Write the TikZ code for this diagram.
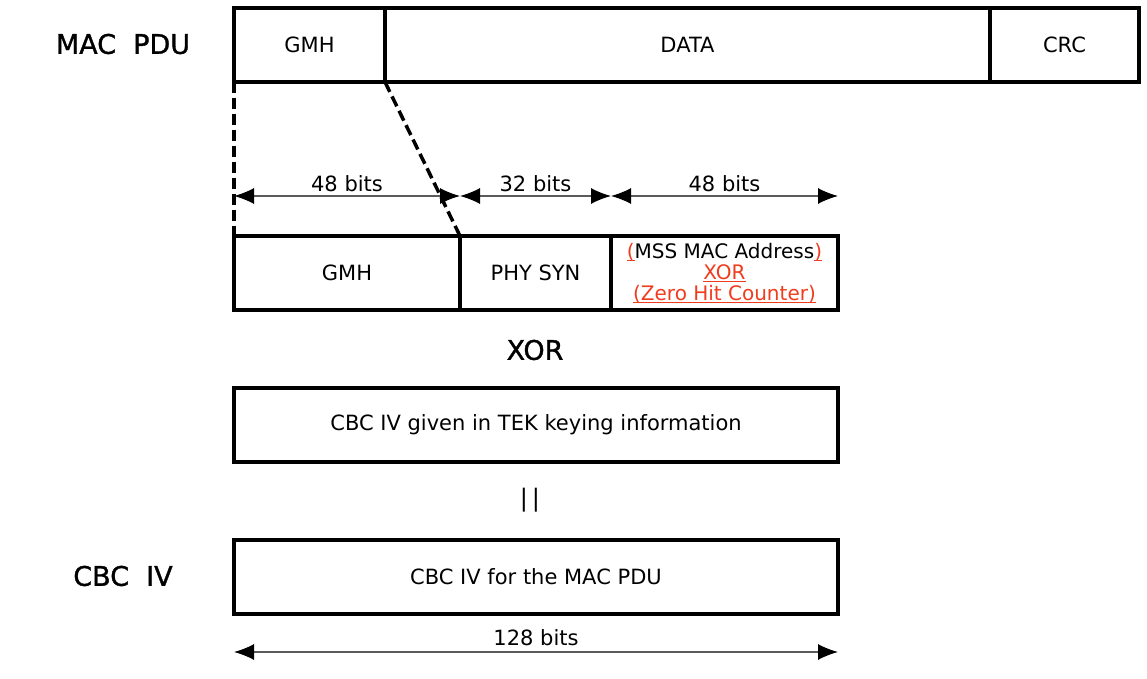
\documentclass[tikz,border=0pt]{standalone}
\usepackage{fontspec}
\setmainfont{DejaVu Sans}
\newfontfamily\heavyfont[FakeBold=1.2]{DejaVu Sans}
\usetikzlibrary{arrows.meta}
\definecolor{edit}{RGB}{240,60,30}
\definecolor{dimgray}{RGB}{90,90,90}
% underlined edit mark
\newcommand{\edul}[1]{\setbox0\hbox{#1}\rlap{\raisebox{-3pt}{\rule{\wd0}{1pt}}}\box0}

\begin{document}
\begin{tikzpicture}[%
    x=1pt, y=-1pt,              % work in pixels of the page, y going down
    >={Latex[length=20pt,width=16pt,color=black]}, % filled dimension tips
    ]
% -------------------------------------------------
% Field boxes, labels and dimension lines
\tikzset{
  field/.style={draw, line width=3.5pt, anchor=north west, inner sep=0pt, outer sep=0pt,
                minimum height=74pt, align=center, font=\fontsize{21}{21}\selectfont},
  rowlabel/.style={font=\heavyfont\fontsize{27}{27}\selectfont},
  gap/.style={draw, line width=3.5pt, dash pattern=on 11pt off 5pt},
  dim/.style={<->, draw=dimgray, line width=1.3pt},
  bits/.style={font=\fontsize{21}{21}\selectfont, inner sep=0pt}
}
\useasboundingbox (0,0) rectangle (1147,679);
% -------------------------------------------------
% MAC PDU on top
\node [rowlabel] (maclabel) at (123,44) {MAC\ \ PDU};
\node [field, minimum width=151pt] (gmh) at (234,8) {GMH};
\node [field, minimum width=605pt] (data) at (385,8) {DATA};
\node [field, minimum width=149pt] (crc) at (990,8) {CRC};

% the header taken apart
\node [field, minimum width=226pt] (gmhb) at (234,236) {GMH};
\node [field, minimum width=151pt] (phy) at (460,236) {PHY SYN};
\node [field, minimum width=227pt, font=\fontsize{20}{21}\selectfont] (addr) at (611,236)
  {{\color{edit}\edul{(}}MSS MAC Address{\color{edit}\edul{)}}\\
   {\color{edit}\edul{XOR}}\\
   {\color{edit}\edul{(Zero Hit Counter)}}};

\draw[gap] (gmh.south west) -- (gmhb.north west);
\draw[gap] (gmh.south east) -- (gmhb.north east);

% bit widths above the header
\coordinate (d0) at ([yshift=40pt]gmhb.north west);
\coordinate (d1) at ([yshift=40pt]gmhb.north east);
\coordinate (d2) at ([yshift=40pt]phy.north east);
\coordinate (d3) at ([yshift=40pt]addr.north east);
\draw[dim] (d0) -- node[bits, above=4pt] {48 bits} (d1);
\draw[dim] (d1) -- node[bits, above=4pt] {32 bits} (d2);
\draw[dim] (d2) -- node[bits, above=4pt] {48 bits} (d3);

% -------------------------------------------------
\node [rowlabel] (xor) at (535,350) {XOR};
\node [field, minimum width=604pt] (given) at (234,388) {CBC IV given in TEK keying information};
\node [font=\fontsize{24}{24}\selectfont] (concat) at (530,500) {|\,|};

% the resulting IV
\node [rowlabel] (cbclabel) at (123,576) {CBC\ \ IV};
\node [field, minimum width=604pt] (cbciv) at (234,540) {CBC IV for the MAC PDU};
\coordinate (e0) at ([yshift=-38pt]cbciv.south west);
\coordinate (e1) at ([yshift=-38pt]cbciv.south east);
\draw[dim] (e0) -- node[bits, above=6pt] {128 bits} (e1);
% -------------------------------------------------
\end{tikzpicture}
\end{document}
